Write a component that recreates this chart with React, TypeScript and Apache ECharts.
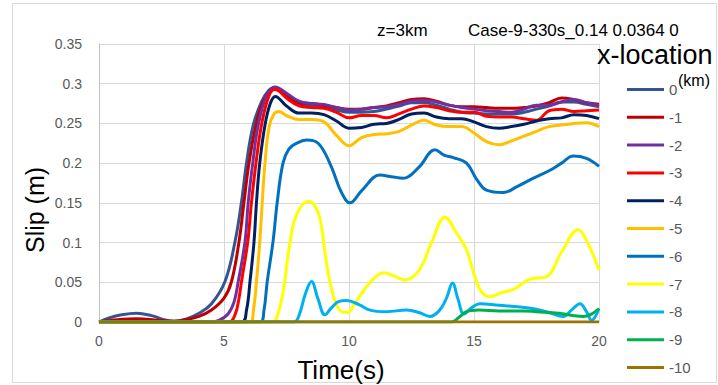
import React, { useEffect, useRef } from "react";
import * as echarts from "echarts";

type P = [number, number][];

const seriesNames = ["0", "-1", "-2", "-3", "-4", "-5", "-6", "-7", "-8", "-9", "-10"];
const seriesColors = ["#335593", "#C00000", "#7030A0", "#FF0000", "#002060", "#FFC000", "#0070C0", "#FFFF00", "#00B0F0", "#00B050", "#9A7400"];
const xTicks = [0, 5, 10, 15, 20];
const yTicks = [0, 0.05, 0.1, 0.15, 0.2, 0.25, 0.3, 0.35];

const s0: P = [[0,0],[0.4,0.005],[0.9,0.009],[1.5,0.011],[2.1,0.008],[2.6,0.003],[3.0,0.001],[3.5,0.004],[4.0,0.011],[4.5,0.023],[5.04,0.051],[5.44,0.101],[5.7,0.151],[5.9,0.2],[6.17,0.248],[6.5,0.277],[6.8,0.292],[7.0,0.295],[7.5,0.283],[8,0.274],[8.5,0.272],[9,0.27],[9.5,0.267],[10,0.264],[10.5,0.264],[11,0.265],[11.5,0.268],[12,0.272],[12.5,0.276],[13,0.276],[13.5,0.273],[14,0.268],[14.5,0.264],[15,0.263],[15.5,0.262],[16,0.262],[16.5,0.262],[17,0.264],[17.5,0.268],[18,0.272],[18.5,0.277],[19,0.277],[19.5,0.274],[20,0.271]];
const s1: P = [[0,0],[0.5,0.002],[1.5,0.004],[2.5,0.002],[3.0,0.001],[3.5,0.003],[4.0,0.007],[4.5,0.015],[5.0,0.03],[5.3,0.051],[5.6,0.101],[5.8,0.151],[6.0,0.2],[6.28,0.248],[6.6,0.28],[7.0,0.293],[7.5,0.285],[8,0.276],[8.5,0.275],[9,0.273],[9.5,0.27],[10,0.268],[10.5,0.268],[11,0.27],[11.5,0.272],[12,0.276],[12.5,0.28],[13,0.281],[13.5,0.278],[14,0.273],[14.5,0.271],[15,0.271],[15.5,0.27],[16,0.269],[16.5,0.269],[17,0.27],[17.5,0.272],[18,0.276],[18.5,0.282],[19,0.28],[19.5,0.276],[20,0.274]];
const s2: P = [[0,0],[4.5,0],[4.8,0.002],[5.16,0.01],[5.4,0.025],[5.57,0.051],[5.84,0.101],[5.97,0.151],[6.15,0.2],[6.37,0.248],[6.7,0.285],[7.05,0.296],[7.5,0.288],[8,0.278],[8.5,0.275],[9,0.274],[9.5,0.27],[10,0.267],[10.5,0.268],[11,0.27],[11.5,0.271],[12,0.274],[12.5,0.278],[13,0.279],[13.5,0.277],[14,0.273],[14.5,0.27],[15,0.268],[15.5,0.266],[16,0.265],[16.5,0.264],[17,0.268],[17.5,0.273],[18,0.273],[18.5,0.277],[19,0.28],[19.5,0.276],[20,0.273]];
const s3: P = [[0,0],[5.2,0],[5.45,0.01],[5.6,0.03],[5.7,0.051],[5.95,0.101],[6.1,0.151],[6.28,0.2],[6.5,0.248],[6.8,0.285],[7.05,0.293],[7.5,0.282],[8,0.272],[8.5,0.27],[9,0.269],[9.5,0.264],[10,0.257],[10.5,0.26],[11,0.26],[11.5,0.257],[12,0.262],[12.5,0.268],[13,0.272],[13.5,0.27],[14,0.266],[14.5,0.264],[15,0.264],[15.5,0.259],[16,0.258],[16.5,0.258],[17,0.256],[17.5,0.254],[18,0.266],[18.5,0.268],[19,0.265],[19.5,0.266],[20,0.267]];
const s4: P = [[0,0],[5.7,0],[5.9,0.015],[6.04,0.051],[6.2,0.101],[6.3,0.151],[6.43,0.2],[6.64,0.248],[6.85,0.275],[7.05,0.284],[7.5,0.272],[8,0.263],[8.5,0.263],[9,0.261],[9.5,0.253],[10,0.244],[10.5,0.245],[11,0.249],[11.5,0.25],[12,0.255],[12.5,0.262],[13,0.263],[13.5,0.258],[14,0.256],[14.5,0.256],[15,0.252],[15.5,0.246],[16,0.244],[16.5,0.246],[17,0.249],[17.5,0.253],[18,0.256],[18.5,0.257],[19,0.261],[19.5,0.26],[20,0.256]];
const s5: P = [[0,0],[6.05,0],[6.18,0.015],[6.3,0.051],[6.43,0.101],[6.53,0.151],[6.64,0.2],[6.8,0.245],[7.0,0.262],[7.2,0.265],[7.5,0.26],[8,0.255],[8.5,0.255],[9,0.252],[9.5,0.235],[10,0.222],[10.5,0.232],[11,0.236],[11.5,0.237],[12,0.24],[12.5,0.248],[13,0.254],[13.5,0.248],[14,0.246],[14.5,0.246],[15,0.238],[15.5,0.227],[16,0.223],[16.5,0.228],[17,0.234],[17.5,0.24],[18,0.246],[18.5,0.248],[19,0.25],[19.5,0.251],[20,0.246]];
const s6: P = [[0,0],[6.45,0],[6.6,0.015],[6.73,0.051],[6.96,0.101],[7.13,0.151],[7.36,0.2],[7.6,0.218],[7.9,0.225],[8.3,0.229],[8.6,0.228],[8.9,0.22],[9.3,0.195],[9.7,0.163],[10.04,0.15],[10.5,0.165],[11.24,0.185],[11.7,0.183],[12.17,0.181],[12.8,0.195],[13.44,0.217],[13.8,0.21],[14.17,0.207],[14.7,0.2],[15.1,0.18],[15.5,0.166],[16.17,0.163],[16.7,0.17],[17.24,0.179],[18.04,0.191],[18.5,0.2],[18.97,0.209],[19.5,0.206],[20,0.196]];
const s7: P = [[0,0],[6.9,0],[7.1,0.005],[7.35,0.035],[7.64,0.1],[7.9,0.135],[8.37,0.152],[8.6,0.148],[8.84,0.13],[9.1,0.074],[9.4,0.03],[9.7,0.013],[9.95,0.012],[10.2,0.022],[10.6,0.04],[11.0,0.055],[11.4,0.062],[11.8,0.058],[12.24,0.053],[12.8,0.065],[13.3,0.1],[13.84,0.132],[14.3,0.112],[14.7,0.091],[15.0,0.06],[15.3,0.038],[15.64,0.032],[16.1,0.037],[16.57,0.041],[17.24,0.054],[17.9,0.057],[18.5,0.088],[19.17,0.116],[19.5,0.103],[20,0.065]];
const s8: P = [[0,0],[7.8,0],[8.0,0.008],[8.25,0.035],[8.5,0.051],[8.75,0.03],[9.04,0.009],[9.3,0.018],[9.6,0.026],[9.9,0.027],[10.4,0.022],[10.84,0.015],[11.5,0.013],[12.3,0.015],[12.8,0.012],[13.24,0.007],[13.6,0.014],[13.9,0.03],[14.14,0.049],[14.35,0.03],[14.6,0.01],[14.9,0.018],[15.24,0.023],[16.0,0.021],[16.84,0.019],[17.5,0.016],[18.0,0.012],[18.57,0.007],[18.9,0.015],[19.24,0.023],[19.5,0.013],[19.7,0.002],[20,0.017]];
const s9: P = [[0,0],[14.1,0],[14.4,0.006],[14.7,0.013],[15.2,0.015],[16,0.014],[17,0.014],[17.5,0.013],[18.4,0.011],[19.0,0.008],[19.4,0.007],[19.7,0.01],[20,0.017]];
const s10: P = [[0,0],[20,0]];

const allData: P[] = [s0, s1, s2, s3, s4, s5, s6, s7, s8, s9, s10];

export default function App() {
  const ref = useRef<HTMLDivElement>(null);
  useEffect(() => {
    document.body.style.margin = "0";
    if (!ref.current) return;
    const chart = echarts.init(ref.current, undefined, { renderer: "svg" });
    const font = "'Liberation Sans', Arial, sans-serif";
    chart.setOption({
      animation: false,
      backgroundColor: "#ffffff",
      textStyle: { fontFamily: font },
      title: [
        { text: "z=3km", left: 377, top: 22, padding: 0, textStyle: { fontSize: 17, fontWeight: "normal", color: "#000", fontFamily: font } },
        { text: "Case-9-330s_0.14 0.0364 0", left: 468, top: 22, padding: 0, textStyle: { fontSize: 17, fontWeight: "normal", color: "#000", fontFamily: font } },
        { text: "x-location", left: 597, top: 41, padding: 0, textStyle: { fontSize: 27, fontWeight: "normal", color: "#000", fontFamily: font } },
        { text: "(km)", left: 678, top: 72, padding: 0, textStyle: { fontSize: 16, fontWeight: "normal", color: "#000", fontFamily: font } },
      ],
      graphic: [
        { type: "rect", shape: { x: 12.5, y: 3.5, width: 704, height: 379 }, style: { fill: "none", stroke: "#d9d9d9", lineWidth: 1 }, silent: true, z: -1 },
        { type: "text", x: 35, y: 210, rotation: Math.PI / 2, style: { text: "Slip (m)", fontSize: 25, fill: "#000", fontFamily: font, textAlign: "center", textVerticalAlign: "middle" } },
        { type: "text", x: 341, y: 370, style: { text: "Time(s)", fontSize: 26, fill: "#000", fontFamily: font, textAlign: "center", textVerticalAlign: "middle" } },
      ],
      legend: {
        orient: "vertical",
        left: 627,
        top: 82,
        height: 300,
        padding: 0,
        itemWidth: 37,
        itemHeight: 14,
        itemGap: 12.8,
        icon: "path://M0,0H37V3H0Z",
        data: seriesNames,
        textStyle: { fontSize: 15, color: "#595959", lineHeight: 14, fontFamily: font },
      },
      grid: { left: 99, right: 119, top: 44, bottom: 63, containLabel: false },
      xAxis: {
        type: "value",
        min: xTicks[0],
        max: xTicks[xTicks.length - 1],
        interval: 5,
        axisLine: { show: true, lineStyle: { color: "#bfbfbf" } },
        axisTick: { show: false },
        axisLabel: { fontSize: 14, color: "#595959", margin: 12, fontFamily: font },
        splitLine: { show: true, lineStyle: { color: "#d9d9d9", width: 1 } },
      },
      yAxis: {
        type: "value",
        min: yTicks[0],
        max: yTicks[yTicks.length - 1],
        interval: 0.05,
        axisLine: { show: true, lineStyle: { color: "#bfbfbf" } },
        axisTick: { show: false },
        axisLabel: { fontSize: 14, color: "#595959", margin: 17, fontFamily: font, formatter: (v: number) => String(+v.toFixed(2)) },
        splitLine: { show: true, lineStyle: { color: "#d9d9d9", width: 1 } },
      },
      series: allData.map((d, i) => ({
        name: seriesNames[i],
        type: "line",
        data: d,
        showSymbol: false,
        symbol: "none",
        smooth: 0.4,
        color: seriesColors[i],
        itemStyle: { color: seriesColors[i] },
        lineStyle: { width: 3, color: seriesColors[i] },
        z: 2 + i,
      })),
    });
    return () => chart.dispose();
  }, []);
  return <div ref={ref} style={{ width: 718, height: 385 }} />;
}
